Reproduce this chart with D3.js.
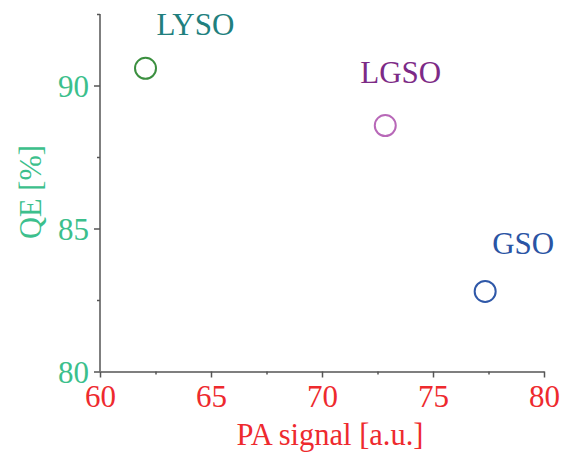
<!DOCTYPE html>
<html>
<head>
<meta charset="utf-8">
<script src="https://cdn.jsdelivr.net/npm/d3@7"></script>
<style>
  body { margin: 0; background: #fff; }
  svg { display: block; font-family: "Liberation Serif", "Times New Roman", serif; }
</style>
</head>
<body>
<svg id="chart"></svg>
<script>
const materials = ["LYSO", "LGSO", "GSO"];
const paSignal = [62.05, 72.85, 77.35];
const qeValues = [90.6, 88.6, 82.8];
const xTicks = [60, 65, 70, 75, 80];
const yTicks = [80, 85, 90];

const circleColors = ["#3b8f3f", "#b868b8", "#2f58a8"];
const labelColors = ["#217f7e", "#7d2a86", "#2a54a4"];
const labelOffsets = [[11, -33], [-25, -43], [7, -37]];

const W = 561, H = 452;
const margin = { top: 14, right: 17, bottom: 80, left: 100 };
const width = W - margin.left - margin.right;
const height = 371.5 - margin.top;
const fs = "31px";

const svg = d3.select("#chart").attr("width", W).attr("height", H);
const g = svg.append("g").attr("transform", `translate(${margin.left},${margin.top})`);

const x = d3.scaleLinear().domain([60, 80]).range([0, width]);
const y = d3.scaleLinear().domain([80, 92.5]).range([height, 0]);

const axisColor = "#555";
const xColor = "#ee2a2e";
const yColor = "#3cbf8c";

// minor ticks
g.append("g")
  .attr("transform", `translate(0,${height})`)
  .call(d3.axisBottom(x).tickValues([62.5, 67.5, 72.5, 77.5]).tickSize(3).tickFormat(""))
  .call(a => a.select(".domain").remove())
  .selectAll("line").attr("stroke", axisColor).attr("stroke-width", 1.5);

g.append("g")
  .call(d3.axisLeft(y).tickValues([82.5, 87.5, 92.5]).tickSize(3).tickFormat(""))
  .call(a => a.select(".domain").remove())
  .selectAll("line").attr("stroke", axisColor).attr("stroke-width", 1.5);

// major axes
const xAxis = g.append("g")
  .attr("transform", `translate(0,${height})`)
  .call(d3.axisBottom(x).tickValues(xTicks).tickSize(6).tickSizeOuter(0).tickPadding(7));
xAxis.select(".domain").attr("stroke", axisColor).attr("stroke-width", 1.5);
xAxis.selectAll("line").attr("stroke", axisColor).attr("stroke-width", 1.5);
xAxis.selectAll("text").attr("fill", xColor).style("font-size", fs)
  .style("font-family", "Liberation Serif");

const yAxis = g.append("g")
  .call(d3.axisLeft(y).tickValues(yTicks).tickSize(6).tickSizeOuter(0).tickPadding(5));
yAxis.select(".domain").attr("stroke", axisColor).attr("stroke-width", 1.5)
  .attr("d", `M0,${height}V0`);
yAxis.selectAll("line").attr("stroke", axisColor).attr("stroke-width", 1.5);
yAxis.selectAll("text").attr("fill", yColor).style("font-size", fs)
  .style("font-family", "Liberation Serif").attr("dy", "0.35em");

// axis titles
svg.append("text")
  .attr("x", 330).attr("y", 445)
  .attr("text-anchor", "middle")
  .attr("fill", xColor)
  .style("font-size", "30.5px")
  .text("PA signal [a.u.]");

svg.append("text")
  .attr("transform", "translate(41,192) rotate(-90)")
  .attr("text-anchor", "middle")
  .attr("fill", yColor)
  .style("font-size", "30.5px")
  .text("QE [%]");

// points
const pts = materials.map((m, i) => ({ name: m, x: paSignal[i], y: qeValues[i], i }));

g.selectAll(".pt").data(pts).enter().append("circle")
  .attr("class", "pt")
  .attr("cx", d => x(d.x))
  .attr("cy", d => y(d.y))
  .attr("r", 10.5)
  .attr("fill", "none")
  .attr("stroke", d => circleColors[d.i])
  .attr("stroke-width", 2);

g.selectAll(".lbl").data(pts).enter().append("text")
  .attr("class", "lbl")
  .attr("x", d => x(d.x) + labelOffsets[d.i][0])
  .attr("y", d => y(d.y) + labelOffsets[d.i][1])
  .attr("fill", d => labelColors[d.i])
  .style("font-size", fs)
  .text(d => d.name);
</script>
</body>
</html>
